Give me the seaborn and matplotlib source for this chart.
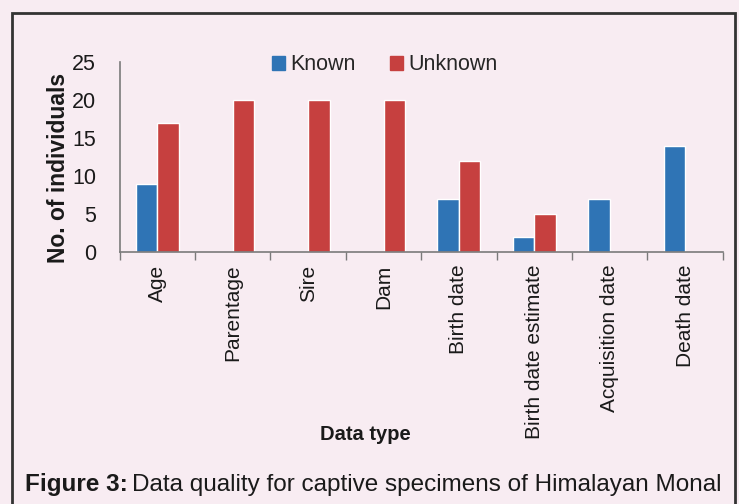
import numpy as np
import pandas as pd
import matplotlib
matplotlib.use("Agg")
import matplotlib.pyplot as plt
import matplotlib.patches as mpatches
import seaborn as sns

# data
categories = ["Age", "Parentage", "Sire", "Dam", "Birth date",
              "Birth date estimate", "Acquisition date", "Death date"]
known = [9, 0, 0, 0, 7, 2, 7, 14]
unknown = [17, 20, 20, 20, 12, 5, 0, 0]
series = ["Known", "Unknown"]
colors = ["#2f74b5", "#c6403f"]

sns.set_theme(style="white")
plt.rcParams["font.family"] = ["Liberation Sans", "DejaVu Sans"]

BG = "#f8ecf2"
df = pd.DataFrame({
    "Data type": categories * 2,
    "Count": known + unknown,
    "Series": ["Known"] * len(categories) + ["Unknown"] * len(categories),
})

fig = plt.figure(figsize=(7.39, 5.04), dpi=100, facecolor=BG)
ax = fig.add_axes([0.162, 0.5, 0.816, 0.377])
ax.set_facecolor(BG)

sns.barplot(data=df, x="Data type", y="Count", hue="Series", hue_order=series,
            palette=colors, width=0.57, saturation=1, ax=ax, legend=False)

ax.set_xlim(-0.5, len(categories) - 0.5)
ax.set_ylim(0, 25)
ax.set_yticks(range(0, 26, 5))
for s in ["top", "right"]:
    ax.spines[s].set_visible(False)
for s in ["left", "bottom"]:
    ax.spines[s].set_color("#7a7a7a")
    ax.spines[s].set_linewidth(1.2)

ax.tick_params(axis="y", which="major", length=6, width=1, color="#7a7a7a",
               labelsize=15.5, pad=11, labelcolor="#1a1a1a")
ax.tick_params(axis="x", which="major", length=0, labelsize=15, pad=9,
               labelrotation=90, labelcolor="#1a1a1a")
ax.set_xticks(np.arange(-0.5, len(categories), 1.0), minor=True)
ax.tick_params(axis="x", which="minor", length=6, width=1, color="#7a7a7a",
               bottom=True)
for t in ax.get_xticklabels():
    t.set_va("top")

ax.set_xlabel("")
ax.set_ylabel("No. of individuals", fontsize=16.5, fontweight="bold",
              color="#1a1a1a")
ax.yaxis.set_label_coords(-0.082, 0.44)

handles = [mpatches.Patch(color=c, label=s) for s, c in zip(series, colors)]
ax.legend(handles=handles, loc="center", bbox_to_anchor=(0.44, 0.985),
          ncol=2, frameon=False, fontsize=15.5, handlelength=0.6,
          handleheight=0.6, handletextpad=0.25, columnspacing=1.6)

fig.text(365 / 739, 1 - 435 / 504, "Data type", fontsize=14.5,
         fontweight="bold", ha="center", va="center", color="#1a1a1a")

# caption: bold prefix then normal text
fig.canvas.draw()
r = fig.canvas.get_renderer()
t1 = fig.text(25 / 739, 1 - 485 / 504, "Figure 3:", fontsize=17.5,
              fontweight="bold", ha="left", va="center", color="#1a1a1a")
bb = t1.get_window_extent(renderer=r)
fig.text((bb.x1 + 4) / 739, 1 - 485 / 504,
         "Data quality for captive specimens of Himalayan Monal",
         fontsize=17.5, ha="left", va="center", color="#1a1a1a")

fig.patches.append(mpatches.Rectangle((12 / 739, -0.02), (735 - 12) / 739,
                                      1 - 13 / 504 + 0.02, fill=False,
                                      edgecolor="#333333", linewidth=2,
                                      transform=fig.transFigure, figure=fig))

fig.savefig("out.png", dpi=100, facecolor=BG)
